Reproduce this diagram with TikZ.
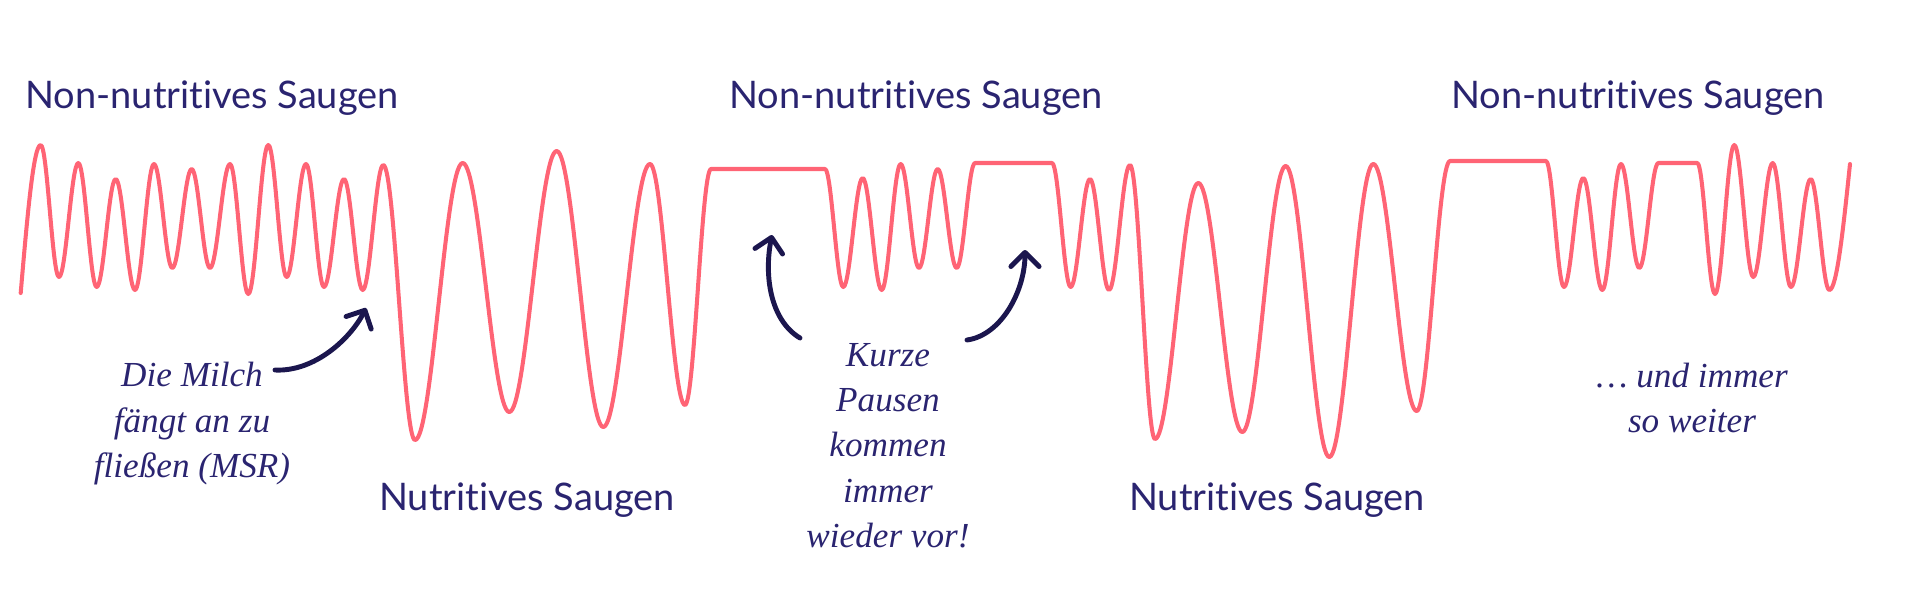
\documentclass[tikz,border=0pt]{standalone}
\usepackage{fontspec}
\usetikzlibrary{arrows.meta}
\newfontfamily\labelfont[Ligatures=NoCommon]{Lato}
\newfontfamily\handfont{Liberation Serif}
\definecolor{wellenrot}{HTML}{FF6475}
\definecolor{textblau}{HTML}{2A2470}
\definecolor{pfeilblau}{HTML}{1B164E}

\begin{document}
\begin{tikzpicture}[x=0.01cm, y=-0.01cm,
    welle/.style={draw=wellenrot, line width=1.15pt, line join=round, line cap=round},
    phase/.style={text=textblau, font=\labelfont\fontsize{10.8}{13}\selectfont, anchor=base, inner sep=0pt},
    notiz/.style={text=textblau, font=\handfont\itshape\fontsize{10}{12.8}\selectfont, align=center, anchor=base, inner sep=0pt},
    pfeil/.style={pfeilblau, line width=1.4pt, line cap=round, -{Straight Barb[round, length=4pt, width=8pt]}}]

    \useasboundingbox (0,0) rectangle (1920,590);

    % =================================================================
    % TEIL 1: SAUGKURVE (Halbwellen von Extremum zu Extremum)
    % =================================================================
    \draw[welle] (20.7,293) sin (40.7,145)
        \foreach \x/\y [remember=\x as \lx (initially 40.7), remember=\y as \ly (initially 145)] in {
            59/277, 78.3/163, 96.7/287, 115.7/179, 135/290, 154/164, 172.3/268, 191.7/169,
            210/268, 230/164, 248.3/294, 268.3/145, 286.7/277, 306/164, 324/287, 344/179,
            362.7/290, 383.3/165,
            415/440, 462.7/163, 509.3/412, 556.7/151, 603.3/427, 650/164, 685/405,
            711/169, 825/169,
            843.3/287, 862.7/178, 881.7/290, 900.7/164, 919/268, 937.7/169, 956.7/268,
            975/163, 1052/163,
            1070.7/287, 1090/179, 1109/290, 1130/165,
            1155/439, 1198.3/183, 1242.3/432, 1285.7/166, 1329.3/457, 1373.3/164, 1416.7/411,
            1450/161, 1546/161,
            1564/287, 1583.3/178, 1602.3/290, 1621/164, 1639.3/268,
            1658.3/163, 1697.3/163,
            1715/294, 1734.3/145, 1753.3/277, 1772.7/163, 1791/287, 1810.7/179, 1829.3/290} {
            cos ({(\lx+\x)/2},{(\ly+\y)/2}) sin (\x,\y)
        }
        cos (1850,164);

    % =================================================================
    % TEIL 2: PHASEN-BESCHRIFTUNG
    % =================================================================
    \node[phase] (nns1) at (212,108) {Non-nutritives Saugen};
    \node[phase] (nns2) at (916,108) {Non-nutritives Saugen};
    \node[phase] (nns3) at (1638,108) {Non-nutritives Saugen};
    \node[phase] (ns1) at (527,510) {Nutritives Saugen};
    \node[phase] (ns2) at (1277,510) {Nutritives Saugen};

    % =================================================================
    % TEIL 3: NOTIZEN UND PFEILE (Anker = Grundlinie der letzten Zeile)
    % =================================================================
    \node[notiz] (milch) at (192,477) {Die Milch\\fängt an zu\\fließen (MSR)};
    \node[notiz] (pausen) at (888,547) {Kurze\\Pausen\\kommen\\immer\\wieder vor!};
    \node[notiz] (weiter) at (1692,432) {\ldots\ und immer\\so weiter};

    % Pfeilenden
    \coordinate (milchstart) at (275,370);
    \coordinate (milchziel) at (366,308);
    \coordinate (pauseAstart) at (800,338);
    \coordinate (pauseAziel) at (772,235);
    \coordinate (pauseBstart) at (967,340);
    \coordinate (pauseBziel) at (1025,250);

    \draw[pfeil] (milchstart) .. controls +(40,2) and +(-15,30) .. (milchziel);
    \draw[pfeil] (pauseAstart) .. controls +(-30,-18) and +(-8,40) .. (pauseAziel);
    \draw[pfeil] (pauseBstart) .. controls +(35,-5) and +(0,40) .. (pauseBziel);

\end{tikzpicture}
\end{document}
